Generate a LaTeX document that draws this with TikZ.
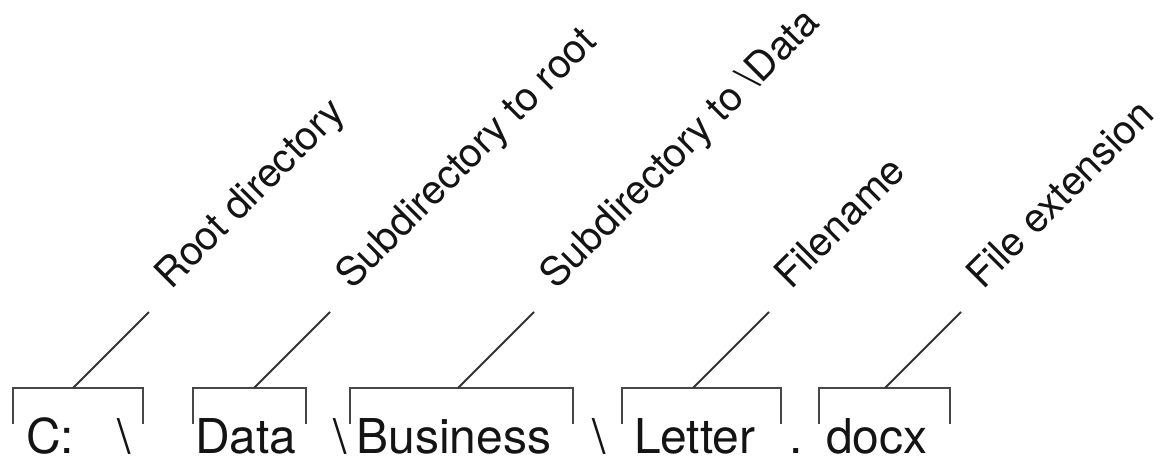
\documentclass[tikz,border=0pt]{standalone}
\usepackage{fontspec}
\setmainfont{TeX Gyre Heros}
\usetikzlibrary{calc}
\tikzset{
  brk/.style={line width=2pt, draw=black!72, line cap=butt, line join=miter},
  lead/.style={line width=1.8pt, draw=black!80},
  lbl/.style={anchor=base west, inner sep=0pt, outer sep=0pt, rotate=45,
              font=\fontsize{40}{40}\selectfont, text=black!92},
  word/.style={anchor=base west, inner sep=0pt, outer sep=0pt,
               font=\fontsize{48}{48}\selectfont, text=black!92},
}
\begin{document}
\begin{tikzpicture}[x=1pt,y=1pt]
\useasboundingbox (0,0) rectangle (1166,459);

% path words
\node[word] (wc)  at (26,6)    {C:};
\node[word] (s1)  at (117,6)   {\textbackslash};
\node[word] (wd)  at (195,6)   {Data};
\node[word] (s2)  at (333,6)   {\textbackslash};
\node[word] (wb)  at (356.5,6) {Business};
\node[word] (s3)  at (592,6)   {\textbackslash};
\node[word] (wl)  at (634,6)   {Letter};
\node[word] (dot) at (789,6)   {.};
\node[word] (wx)  at (826,6)   {docx};

% brackets
\draw[brk] (13,35)  -- (13,71)  -- (143,71) -- (143,35);
\draw[brk] (193,35) -- (193,71) -- (306,71) -- (306,35);
\draw[brk] (350,35) -- (350,71) -- (573,71) -- (573,35);
\draw[brk] (622,35) -- (622,71) -- (781,71) -- (781,35);
\draw[brk] (819,35) -- (819,71) -- (950,71) -- (950,35);

% leader feet and tops
\coordinate (b1) at (73,71);  \coordinate (t1) at (149,147);
\coordinate (b2) at (254,71); \coordinate (t2) at (330,147);
\coordinate (b3) at (458,71); \coordinate (t3) at (534,147);
\coordinate (b4) at (693,71); \coordinate (t4) at (769,147);
\coordinate (b5) at (885,71); \coordinate (t5) at (961,147);

\draw[lead] (b1) -- (t1);
\draw[lead] (b2) -- (t2);
\draw[lead] (b3) -- (t3);
\draw[lead] (b4) -- (t4);
\draw[lead] (b5) -- (t5);

% labels
\node[lbl] (l1) at ($(t1)+(22,22)$) {Root directory};
\node[lbl] (l2) at ($(t2)+(22,22)$) {Subdirectory to root};
\node[lbl] (l3) at ($(t3)+(22,22)$) {Subdirectory to \textbackslash Data};
\node[lbl] (l4) at ($(t4)+(22,22)$) {Filename};
\node[lbl] (l5) at ($(t5)+(22,22)$) {File extension};
\end{tikzpicture}
\end{document}
